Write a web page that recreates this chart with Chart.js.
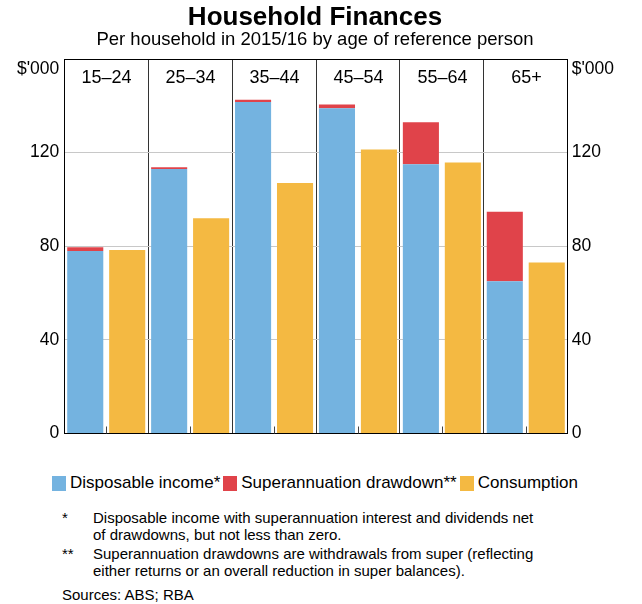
<!DOCTYPE html>
<html>
<head>
<meta charset="utf-8">
<script src="https://cdn.jsdelivr.net/npm/chart.js@4.4.1/dist/chart.umd.min.js"></script>
<style>
  body { margin: 0; background: #fff; font-family: "Liberation Sans", Arial, sans-serif; }
  #wrap { position: relative; width: 642px; height: 604px; }
  #myChart { position: absolute; left: 0; top: 0; }
  #legend { position: absolute; left: 52px; top: 473px; display: flex; align-items: center; font-size: 17px; white-space: nowrap; }
  #legend .item { display: flex; align-items: center; margin-right: 3px; }
  #legend .box { width: 14px; height: 15px; margin-right: 4px; }
  .note { position: absolute; left: 62px; font-size: 15px; line-height: 17px; white-space: nowrap; }
  .note .mark { position: absolute; left: 0; }
  .note .txt { position: absolute; left: 31px; }
</style>
</head>
<body>
<div id="wrap">
  <canvas id="myChart" width="642" height="449"></canvas>
  <div id="legend"></div>
  <div class="note" style="top:509px"><span class="mark">*</span><span class="txt">Disposable income with superannuation interest and dividends net<br>of drawdowns, but not less than zero.</span></div>
  <div class="note" style="top:545px"><span class="mark">**</span><span class="txt">Superannuation drawdowns are withdrawals from super (reflecting<br>either returns or an overall reduction in super balances).</span></div>
  <div class="note" style="top:586px">Sources: ABS; RBA</div>
</div>
<script>
const categories = ['15–24', '25–34', '35–44', '45–54', '55–64', '65+'];
const disposableIncome = [78, 113, 141.6, 139, 115, 65];
const superDrawdown = [1.6, 0.8, 1.0, 1.6, 18, 29.7];
const consumption = [78.4, 92, 107, 121.3, 115.8, 73.1];
const yTicks = [0, 40, 80, 120, 160];

const blue = '#74B3E0';
const red = '#E0434A';
const yellow = '#F4B942';

Chart.defaults.font.family = '"Liberation Sans", Arial, sans-serif';
Chart.defaults.color = '#000';

// age group names inside the top of the plot, small up-ticks on the base line
const catLabels = {
    id: 'catLabels',
    afterDatasetsDraw(chart) {
        const {ctx, chartArea, scales: {x}} = chart;
        ctx.save();
        ctx.font = '18px "Liberation Sans", Arial, sans-serif';
        ctx.fillStyle = '#000';
        ctx.strokeStyle = '#444';
        ctx.lineWidth = 1;
        ctx.textAlign = 'center';
        ctx.textBaseline = 'middle';
        categories.forEach((c, i) => {
            const px = Math.round(x.getPixelForValue(i)) + 0.5;
            ctx.fillText(c, px, chartArea.top + 19);
            ctx.beginPath();
            ctx.moveTo(px, chartArea.bottom);
            ctx.lineTo(px, chartArea.bottom - 7);
            ctx.stroke();
        });
        ctx.restore();
    }
};

const tickLabel = (v) => v === 160 ? ['', "$'000"] : v;

const ctx = document.getElementById('myChart');
const chart = new Chart(ctx, {
    type: 'bar',
    data: {
        labels: categories,
        datasets: [
            { label: 'Disposable income*', data: disposableIncome, backgroundColor: blue, stack: 'income' },
            { label: 'Superannuation drawdown**', data: superDrawdown, backgroundColor: red, stack: 'income' },
            { label: 'Consumption', data: consumption, backgroundColor: yellow, stack: 'cons' }
        ]
    },
    options: {
        responsive: false,
        animation: false,
        categoryPercentage: 1.0,
        barPercentage: 0.86,
        layout: { padding: { left: 12, right: 24, top: 0, bottom: 7 } },
        plugins: {
            legend: { display: false },
            tooltip: { enabled: false },
            title: {
                display: true,
                text: 'Household Finances',
                font: { size: 26, weight: 'bold', lineHeight: 1.0 },
                padding: { top: 5, bottom: 0 }
            },
            subtitle: {
                display: true,
                text: 'Per household in 2015/16 by age of reference person',
                font: { size: 18.5, lineHeight: 1.0 },
                padding: { top: 0, bottom: 9.5 }
            }
        },
        scales: {
            x: {
                stacked: true,
                ticks: { display: false },
                grid: { offset: true, color: '#333', drawTicks: false },
                border: { color: '#000' }
            },
            y: {
                stacked: true,
                min: 0,
                max: 160,
                afterBuildTicks: (s) => { s.ticks = yTicks.map(v => ({ value: v })); },
                ticks: { font: { size: 17.5 }, padding: 5, callback: tickLabel },
                grid: {
                    drawTicks: false,
                    color: (c) => (c.tick && (c.tick.value === 0 || c.tick.value === 160)) ? '#000' : '#c8c8c8'
                },
                border: { color: '#000' }
            },
            y2: {
                position: 'right',
                min: 0,
                max: 160,
                afterBuildTicks: (s) => { s.ticks = yTicks.map(v => ({ value: v })); },
                ticks: { font: { size: 17.5 }, padding: 4, callback: tickLabel },
                grid: { display: false, drawTicks: false },
                border: { color: '#000' }
            }
        }
    },
    plugins: [catLabels]
});

// legend built from the chart's datasets
const legend = document.getElementById('legend');
chart.data.datasets.forEach(ds => {
    const item = document.createElement('div');
    item.className = 'item';
    item.innerHTML = '<span class="box" style="background:' + ds.backgroundColor + '"></span>' + ds.label;
    legend.appendChild(item);
});
</script>
</body>
</html>
